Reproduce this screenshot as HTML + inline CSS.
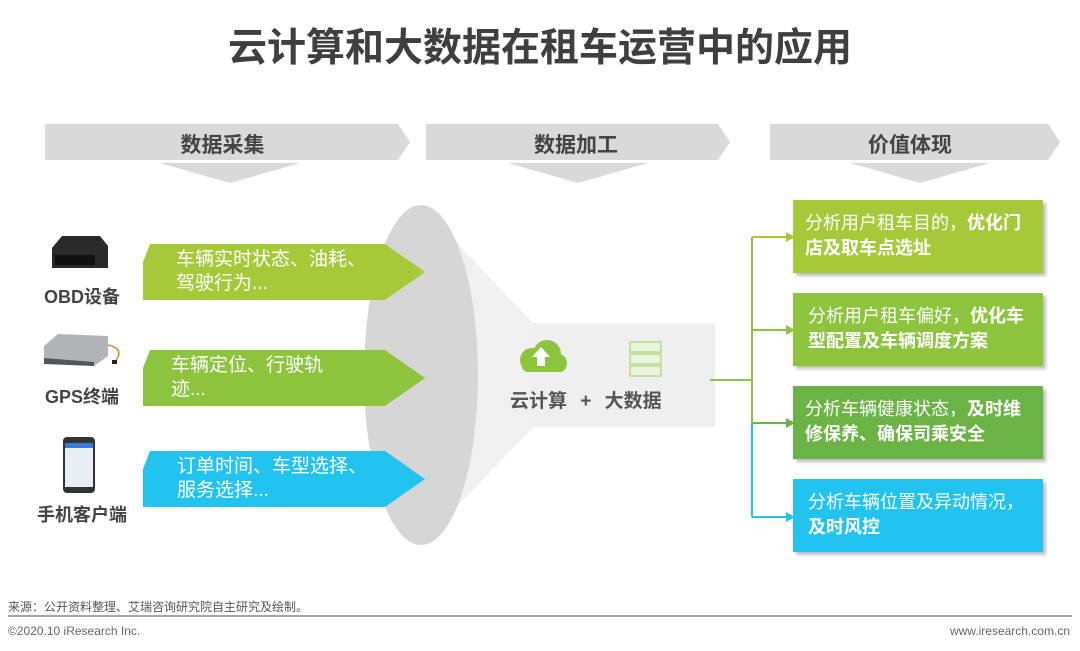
<!DOCTYPE html>
<html><head><meta charset="utf-8"><style>
body{margin:0;width:1080px;height:651px;background:#fff;position:relative;overflow:hidden;font-family:"Liberation Sans","Noto Sans CJK SC",sans-serif}
.a{position:absolute;white-space:nowrap}
.t{left:0;width:1080px;text-align:center;top:17px;font-size:39px;font-weight:bold;color:#3f3f3f;letter-spacing:0px}
.h{font-size:21px;font-weight:bold;color:#444;text-align:center}
.lab{font-size:18px;font-weight:bold;color:#444;text-align:center;width:130px}
.in{font-size:19px;color:#fff;line-height:24px}
.box{position:absolute;left:793px;width:250px;height:73px;box-shadow:3px 3px 3px rgba(0,0,0,.25);color:#fff;font-size:18px;line-height:25px;box-sizing:border-box;padding:11px 0 0 12px}
.box b{font-weight:bold}
</style></head><body>
<div class="a t">云计算和大数据在租车运营中的应用</div>
<svg class="a" style="left:0;top:0" width="1080" height="651">
<polygon points="45,124 398,124 410,142 398,160 45,160" fill="#d9d9d9"/>
<polygon points="426,124 718,124 730,142 718,160 426,160" fill="#d9d9d9"/>
<polygon points="770,124 1048,124 1060,142 1048,160 770,160" fill="#d9d9d9"/>
<polygon points="160,163 300,163 230,183" fill="#d9d9d9"/>
<polygon points="508,163 648,163 578,183" fill="#d9d9d9"/>
<polygon points="850,163 990,163 920,183" fill="#d9d9d9"/>
<polygon points="421,205 533,323 715,323 715,427 533,427 421,545" fill="#f0f0f0"/>
<rect x="533" y="323" width="182" height="104" fill="#efefef"/>
<ellipse cx="421" cy="375" rx="57" ry="170" fill="#d6d6d6"/>
<polygon points="150,244 385,244 425,272 385,300 143,300 143,262" fill="#a5c938"/>
<polygon points="150,350 385,350 425,378 385,406 143,406 143,368" fill="#8cc43e"/>
<polygon points="150,451 385,451 425,479 385,507 143,507 143,469" fill="#22c3ef"/>
<g stroke="#8cc43e" stroke-width="2" fill="none">
<line x1="710" y1="380" x2="752" y2="380"/>
<line x1="752" y1="237" x2="752" y2="423"/>
<line x1="752" y1="237" x2="787" y2="237" stroke="#a5c938"/>
<line x1="752" y1="330" x2="787" y2="330"/>
<line x1="752" y1="423" x2="787" y2="423" stroke="#6ab344"/>
</g>
<g stroke="#22c3ef" stroke-width="2" fill="none">
<line x1="752" y1="423" x2="752" y2="517"/>
<line x1="752" y1="517" x2="787" y2="517"/>
</g>
<polygon points="786,232 795,237 786,242" fill="#a5c938"/>
<polygon points="786,325 795,330 786,335" fill="#8cc43e"/>
<polygon points="786,418 795,423 786,428" fill="#6ab344"/>
<polygon points="786,512 795,517 786,522" fill="#22c3ef"/>
<g fill="#8cc43e">
<circle cx="532" cy="360" r="12"/><circle cx="547" cy="354" r="14"/><circle cx="558" cy="363" r="9"/>
<rect x="522" y="360" width="44" height="12" rx="6"/>
</g>
<polygon points="541,347 550,357 545,357 545,366 537,366 537,357 532,357" fill="#fff"/>
<g stroke="#b6d98a" stroke-width="1.5" fill="#eaf3dc">
<rect x="630" y="342" width="31" height="10"/><rect x="630" y="354" width="31" height="10"/><rect x="630" y="366" width="31" height="10"/>
</g>
<path d="M52,248 L62,236 L100,236 L108,246 L108,268 L52,268 Z" fill="#2a2a2a"/>
<rect x="55" y="255" width="40" height="10" fill="#111"/>
<polygon points="44,346 58,334 108,336 108,356 94,366 44,362" fill="#b0b4b8"/>
<polygon points="44,358 94,362 94,366 44,364" fill="#555"/>
<path d="M108,345 q14,3 10,12 l-3,5" stroke="#d98a2a" stroke-width="1.5" fill="none"/>
<rect x="112" y="360" width="5" height="4" fill="#222"/>
<rect x="63" y="437" width="32" height="56" rx="4" fill="#333"/>
<rect x="65" y="443" width="28" height="44" fill="#e8eef6"/>
<rect x="65" y="443" width="28" height="5" fill="#3a7bd5"/>
<line x1="8" y1="616" x2="1072" y2="616" stroke="#888" stroke-width="1.5"/>
</svg>
<div class="a h" style="left:45px;width:355px;top:129px">数据采集</div>
<div class="a h" style="left:426px;width:300px;top:129px">数据加工</div>
<div class="a h" style="left:770px;width:280px;top:129px">价值体现</div>
<div class="a lab" style="left:17px;top:283px">OBD设备</div>
<div class="a lab" style="left:17px;top:383px">GPS终端</div>
<div class="a lab" style="left:17px;top:501px">手机客户端</div>
<div class="a in" style="left:176px;top:248px">车辆实时状态、油耗、<br>驾驶行为...</div>
<div class="a in" style="left:171px;top:354px">车辆定位、行驶轨<br>迹...</div>
<div class="a in" style="left:177px;top:455px">订单时间、车型选择、<br>服务选择...</div>
<div class="a" style="left:510px;top:386px;font-size:19px;font-weight:bold;color:#555">云计算 <span style="margin:0 8px">+</span> 大数据</div>
<div class="box" style="top:200px;background:#a5c938">分析用户租车目的，<b>优化门<br>店及取车点选址</b></div>
<div class="box" style="top:293px;background:#8cc43e;padding-left:15px">分析用户租车偏好，<b>优化车<br>型配置及车辆调度方案</b></div>
<div class="box" style="top:386px;background:#6ab344">分析车辆健康状态，<b>及时维<br>修保养、确保司乘安全</b></div>
<div class="box" style="top:479px;background:#22c3ef;padding-left:15px">分析车辆位置及异动情况，<br><b>及时风控</b></div>
<div class="a" style="left:8px;top:598px;font-size:12px;color:#555">来源：公开资料整理、艾瑞咨询研究院自主研究及绘制。</div>
<div class="a" style="left:8px;top:624px;font-size:12px;color:#666">©2020.10 iResearch Inc.</div>
<div class="a" style="right:10px;top:624px;font-size:12px;color:#666">www.iresearch.com.cn</div>
</body></html>
